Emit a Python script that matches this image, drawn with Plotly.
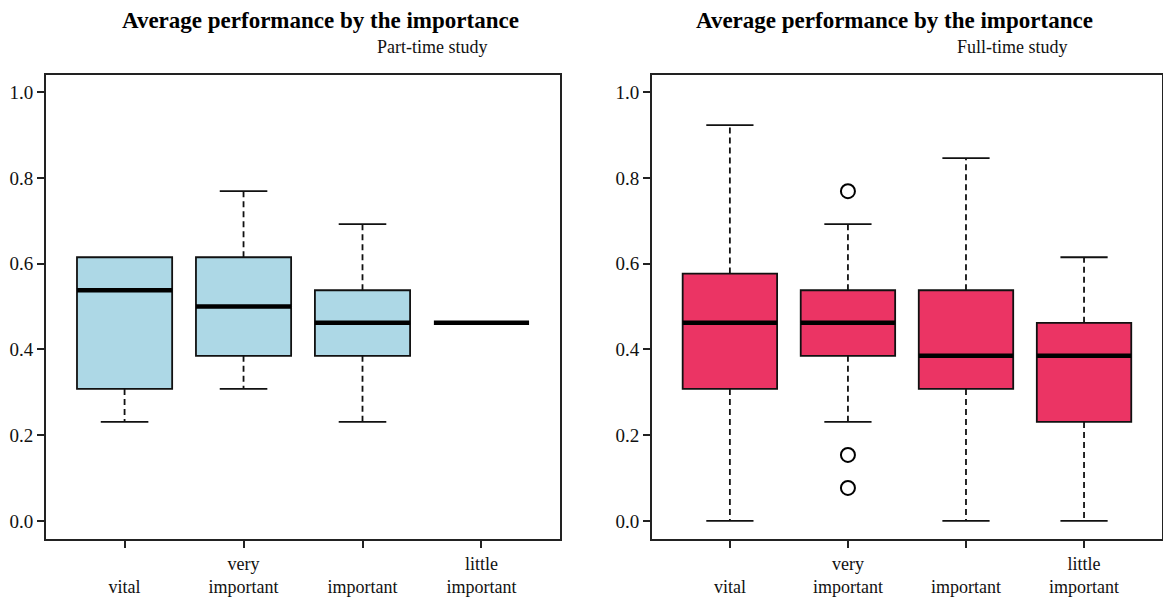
import plotly.graph_objects as go

# Importance categories (x axis)
categories = ["vital", "very important", "important", "little important"]
tick_text = ["&nbsp;<br>vital", "very<br>important", "&nbsp;<br>important", "little<br>important"]
positions = [1, 2, 3, 4]

# Part-time study: five-number summaries per category
pt_lower = [0.231, 0.308, 0.231, 0.462]
pt_q1 = [0.308, 0.385, 0.385, 0.462]
pt_median = [0.538, 0.500, 0.462, 0.462]
pt_q3 = [0.615, 0.615, 0.538, 0.462]
pt_upper = [0.615, 0.769, 0.692, 0.462]
pt_outliers = [[], [], [], []]

# Full-time study: five-number summaries per category
ft_lower = [0.000, 0.231, 0.000, 0.000]
ft_q1 = [0.308, 0.385, 0.308, 0.231]
ft_median = [0.462, 0.462, 0.385, 0.385]
ft_q3 = [0.577, 0.538, 0.538, 0.462]
ft_upper = [0.923, 0.692, 0.846, 0.615]
ft_outliers = [[], [0.769, 0.154, 0.077], [], []]

title_text = "Average performance by the importance"
subtitles = ["Part-time study", "Full-time study"]
fills = ["#ADD8E6", "#EB3464"]

SERIF = "Liberation Serif, Times New Roman, serif"
BOX_W = 0.8
STAPLE_W = 0.4

fig = go.Figure()


def add_panel(xa, ya, lower, q1, med, q3, upper, outliers, fill):
    # boxes (no whiskers: fences equal to the hinges)
    for i, p in enumerate(positions):
        if q3[i] > q1[i]:
            fig.add_trace(go.Box(
                x=[p], q1=[q1[i]], median=[med[i]], q3=[q3[i]],
                lowerfence=[q1[i]], upperfence=[q3[i]],
                width=BOX_W, fillcolor=fill,
                line=dict(color="#111111", width=1.8),
                whiskerwidth=0, boxpoints=False,
                xaxis=xa, yaxis=ya, showlegend=False, hoverinfo="skip"))
    # dashed whiskers with solid staples
    for i, p in enumerate(positions):
        for a, b in ((q3[i], upper[i]), (q1[i], lower[i])):
            if b != a:
                fig.add_trace(go.Scatter(
                    x=[p, p], y=[a, b], mode="lines",
                    line=dict(color="#111111", width=1.8, dash="6px,4px"),
                    xaxis=xa, yaxis=ya, showlegend=False, hoverinfo="skip"))
                fig.add_trace(go.Scatter(
                    x=[p - STAPLE_W / 2, p + STAPLE_W / 2], y=[b, b], mode="lines",
                    line=dict(color="#111111", width=1.8),
                    xaxis=xa, yaxis=ya, showlegend=False, hoverinfo="skip"))
    # thick median bars
    for i, p in enumerate(positions):
        fig.add_trace(go.Scatter(
            x=[p - BOX_W / 2, p + BOX_W / 2], y=[med[i], med[i]], mode="lines",
            line=dict(color="#000000", width=4.5),
            xaxis=xa, yaxis=ya, showlegend=False, hoverinfo="skip"))
    # outlying points
    ox, oy = [], []
    for i, p in enumerate(positions):
        for v in outliers[i]:
            ox.append(p)
            oy.append(v)
    if ox:
        fig.add_trace(go.Scatter(
            x=ox, y=oy, mode="markers",
            marker=dict(symbol="circle-open", size=14, color="#000000",
                        line=dict(width=2, color="#000000")),
            xaxis=xa, yaxis=ya, showlegend=False, hoverinfo="skip"))


add_panel("x", "y", pt_lower, pt_q1, pt_median, pt_q3, pt_upper, pt_outliers, fills[0])
add_panel("x2", "y2", ft_lower, ft_q1, ft_median, ft_q3, ft_upper, ft_outliers, fills[1])

xcommon = dict(
    range=[0.34, 4.66], tickmode="array", tickvals=positions, ticktext=tick_text,
    ticks="outside", ticklen=7, tickwidth=2, tickcolor="#222222",
    showline=True, linecolor="#222222", linewidth=2, mirror=True,
    showgrid=False, zeroline=False, automargin=False,
    tickfont=dict(family=SERIF, size=18, color="#111111"),
)
ycommon = dict(
    range=[-0.042, 1.04], tickmode="array", tickvals=[0, 0.2, 0.4, 0.6, 0.8, 1.0],
    ticktext=["0.0", "0.2", "0.4", "0.6", "0.8", "1.0"],
    ticks="outside", ticklen=7, tickwidth=2, tickcolor="#222222",
    showline=True, linecolor="#222222", linewidth=2, mirror=True,
    showgrid=False, zeroline=False, automargin=False,
    tickfont=dict(family=SERIF, size=19, color="#111111"),
)

fig.update_layout(
    width=1163, height=597,
    margin=dict(l=0, r=0, t=0, b=0),
    paper_bgcolor="white", plot_bgcolor="white",
    xaxis=dict(domain=[0.0396, 0.4815], anchor="y", **xcommon),
    yaxis=dict(domain=[0.0972, 0.8744], anchor="x", **ycommon),
    xaxis2=dict(domain=[0.5606, 0.9991], anchor="y2", **xcommon),
    yaxis2=dict(domain=[0.0972, 0.8744], anchor="x2", **ycommon),
)

# panel titles and subtitles
title_x = [320 / 1163, 894 / 1163]
sub_x = [490 / 1163, 1070 / 1163]
for k in range(2):
    fig.add_annotation(
        text="<b>" + title_text + "</b>", x=title_x[k], y=1 - 20 / 597,
        xref="paper", yref="paper", xanchor="center", yanchor="middle",
        showarrow=False, font=dict(family=SERIF, size=23, color="#000000"))
    fig.add_annotation(
        text=subtitles[k], x=sub_x[k], y=1 - 47 / 597,
        xref="paper", yref="paper", xanchor="right", yanchor="middle",
        showarrow=False, font=dict(family=SERIF, size=18, color="#111111"))

fig.write_html("out.html")
